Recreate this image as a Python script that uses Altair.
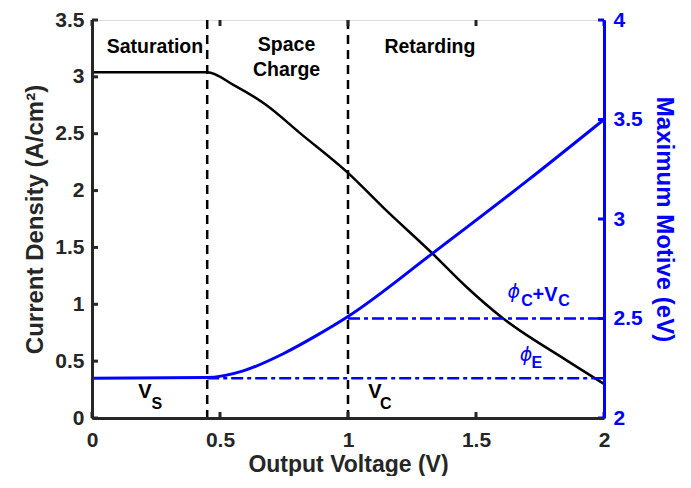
import altair as alt
import pandas as pd

# ---- data ----
cur_x = [0, 0.45, 0.552, 0.682, 0.8125, 1.0, 1.138, 1.333, 1.464, 1.6, 1.854, 2.0]
cur_y = [3.04, 3.04, 2.93, 2.75, 2.505, 2.155, 1.85, 1.44, 1.15, 0.886, 0.507, 0.30]

mot_x = [0, 0.448, 0.591, 0.747, 0.878, 1.0, 1.333, 1.698, 2.0]
mot_y = [2.2, 2.203, 2.237, 2.323, 2.415, 2.51, 2.83, 3.19, 3.5]

vlines_x = [0.45, 1.0]             # V_S, V_C
hl_x = [0.45, 1.0]                 # phi_E, phi_C+V_C start
hl_x2 = [2.0, 2.0]
hl_y = [2.2, 2.5]

x_ticks = [0, 0.5, 1, 1.5, 2]
y_left_ticks = [0, 0.5, 1, 1.5, 2, 2.5, 3, 3.5]
y_right_ticks = [2, 2.5, 3, 3.5, 4]

lab_txt = ["Saturation", "Space", "Charge", "Retarding", "V", "S", "V", "C"]
lab_x = [0.246, 0.76, 0.76, 1.32, 0.207, 0.253, 1.105, 1.148]
lab_y = [3.26, 3.28, 3.06, 3.26, 0.225, 0.12, 0.225, 0.12]
lab_size = [19.5, 19.5, 19.5, 19.5, 20, 16, 20, 16]

blab_txt = ["C", "+V", "C", "E"]
blab_x = [1.699, 1.77, 1.844, 1.738]
blab_y = [2.59, 2.62, 2.59, 2.275]
blab_size = [16, 20, 16, 16]
phi_x = [1.648, 1.695]
phi_y = [2.635, 2.315]

FONT = "Liberation Sans"
BLUE = "#0000FF"
DARK = "#262626"
W, H = 512, 398

xs = alt.Scale(domain=[0, 2], nice=False, zero=False)
yl = alt.Scale(domain=[0, 3.5], nice=False, zero=False)
yr = alt.Scale(domain=[2, 4], nice=False, zero=False)

common = dict(ticks=False, grid=False, labelFlush=False, zindex=1, format="~g",
              domainWidth=3, labelFont=FONT, labelFontSize=21, labelFontWeight="bold",
              titleFont=FONT, titleFontWeight="bold")

xaxis = alt.Axis(values=x_ticks, title="Output Voltage (V)", labelPadding=11,
                 domainColor=DARK, labelColor=DARK, titleColor=DARK, titlePadding=3,
                 titleFontSize=23, **common)
ylaxis = alt.Axis(values=y_left_ticks, title="Current Density (A/cm²)", labelPadding=8,
                  domainColor=DARK, labelColor=DARK, titleColor=DARK, titlePadding=7,
                  titleFontSize=24, **common)
yraxis = alt.Axis(values=y_right_ticks, title="Maximum Motive (eV)", orient="right",
                  labelPadding=9, domainColor=BLUE, labelColor=BLUE, titleColor=BLUE,
                  titlePadding=9, titleFontSize=24, **common)

cur_df = pd.DataFrame({"x": cur_x, "y": cur_y})
mot_df = pd.DataFrame({"x": mot_x, "y": mot_y})
vl_df = pd.DataFrame({"x": vlines_x})
hl_df = pd.DataFrame({"x": hl_x, "x2": hl_x2, "y": hl_y})
lab_df = pd.DataFrame({"t": lab_txt, "x": lab_x, "y": lab_y, "s": lab_size})
blab_df = pd.DataFrame({"t": blab_txt, "x": blab_x, "y": blab_y, "s": blab_size})
phi_df = pd.DataFrame({"x": phi_x, "y": phi_y})

X = alt.X("x:Q", scale=xs, axis=xaxis)

cur = alt.Chart(cur_df).mark_line(color="black", strokeWidth=2.5, interpolate="monotone").encode(
    x=X, y=alt.Y("y:Q", scale=yl, axis=ylaxis),
)

vls = alt.Chart(vl_df).mark_rule(color="black", strokeWidth=2.5, strokeDash=[9, 6]).encode(
    x=X, y=alt.value(0), y2=alt.value(H)
)

mot = alt.Chart(mot_df).mark_line(color=BLUE, strokeWidth=3, interpolate="monotone").encode(
    x=X, y=alt.Y("y:Q", scale=yr, axis=yraxis),
)

hls = alt.Chart(hl_df).mark_rule(color=BLUE, strokeWidth=2.5, strokeDash=[12, 4, 4, 4]).encode(
    x=X, x2="x2:Q", y=alt.Y("y:Q", scale=yr, axis=None),
)

labs = alt.Chart(lab_df).mark_text(font=FONT, fontWeight="bold", color="black").encode(
    x=X, y=alt.Y("y:Q", scale=yl, axis=None), text="t:N",
    size=alt.Size("s:Q", scale=None, legend=None),
)

blabs = alt.Chart(blab_df).mark_text(font=FONT, fontWeight="bold", color=BLUE).encode(
    x=X, y=alt.Y("y:Q", scale=yr, axis=None), text="t:N",
    size=alt.Size("s:Q", scale=None, legend=None),
)

phis = alt.Chart(phi_df).mark_text(font="DejaVu Sans", fontStyle="italic",
                                   fontSize=19, color=BLUE, text="ϕ").encode(
    x=X, y=alt.Y("y:Q", scale=yr, axis=None),
)

tx_df = pd.DataFrame({"x": x_ticks})
tyl_df = pd.DataFrame({"v": y_left_ticks})
tyr_df = pd.DataFrame({"v": y_right_ticks})

tick_b = alt.Chart(tx_df).mark_rule(color=DARK, strokeWidth=3).encode(
    x=X, y=alt.value(H), y2=alt.value(H - 6))
tick_t = alt.Chart(tx_df).mark_rule(color=DARK, strokeWidth=3).encode(
    x=X, y=alt.value(0), y2=alt.value(6))
tick_l = alt.Chart(tyl_df).mark_rule(color=DARK, strokeWidth=3).encode(
    y=alt.Y("v:Q", scale=yl, axis=None), x=alt.value(0), x2=alt.value(6))
tick_r = alt.Chart(tyr_df).mark_rule(color=BLUE, strokeWidth=3).encode(
    y=alt.Y("v:Q", scale=yr, axis=None), x=alt.value(W), x2=alt.value(W - 6))

chart = alt.layer(
    cur, mot, vls, hls, labs, blabs, phis, tick_b, tick_t, tick_l, tick_r
).resolve_scale(y="independent").properties(
    width=W, height=H,
    autosize=alt.AutoSizeParams(type="none"),
    padding={"left": 84, "top": 12, "right": 79, "bottom": 58},
).configure_view(stroke=DARK, strokeWidth=3).configure(background="white")

chart.save("out.html", embed_options={"renderer": "svg", "actions": False})
